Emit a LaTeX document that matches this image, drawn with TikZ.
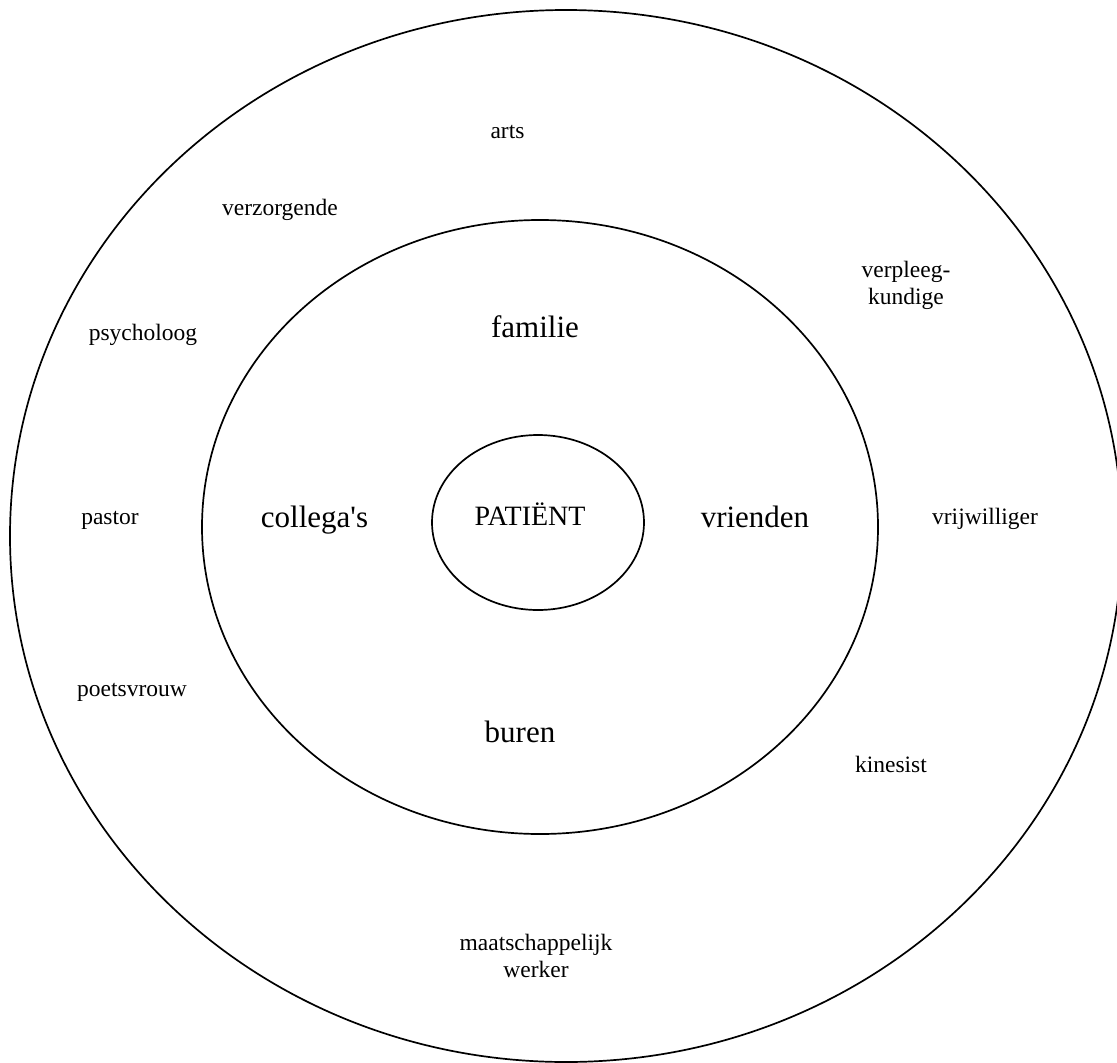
\documentclass[tikz,border=0pt]{standalone}
\usepackage{fontspec}
\setmainfont{Liberation Serif}[Ligatures=TeXOff]
\begin{document}
\begin{tikzpicture}[x=1pt,y=-1pt,
  ring/.style={line width=1.7pt},
  small/.style={font=\fontsize{23.5}{27}\selectfont, align=center, inner sep=0pt},
  mid/.style={font=\fontsize{28}{32}\selectfont, inner sep=0pt},
  large/.style={font=\fontsize{31}{36}\selectfont, inner sep=0pt}]
\useasboundingbox (0,0) rectangle (1117,1063);
\begin{scope}
\clip (0,0) rectangle (1117,1063);
\draw[ring] (566,536) ellipse [x radius=556, y radius=526];
\end{scope}
\draw[ring] (540,527) ellipse [x radius=338, y radius=307];
\draw[ring] (538,522.5) ellipse [x radius=106, y radius=87.5];
% center
\node[mid, anchor=base] (patient) at (530,525) {PATIËNT};
% middle ring
\node[large, anchor=base] (familie) at (535,337) {familie};
\node[large, anchor=base] (collegas) at (314.5,527) {collega's};
\node[large, anchor=base] (vrienden) at (755,527) {vrienden};
\node[large, anchor=base] (buren) at (520,742) {buren};
% outer ring
\node[small, anchor=base] (arts) at (507.5,138) {arts};
\node[small, anchor=base] (verzorgende) at (280,215) {verzorgende};
\node[small, anchor=base] (verpleeg) at (906,304) {verpleeg-\\kundige};
\node[small, anchor=base] (psycholoog) at (143,340) {psycholoog};
\node[small, anchor=base] (pastor) at (110,524) {pastor};
\node[small, anchor=base] (vrijwilliger) at (985,524) {vrijwilliger};
\node[small, anchor=base] (poetsvrouw) at (132,696) {poetsvrouw};
\node[small, anchor=base] (kinesist) at (891,772) {kinesist};
\node[small, anchor=base] (maatsch) at (536,977) {maatschappelijk\\werker};
\end{tikzpicture}
\end{document}
